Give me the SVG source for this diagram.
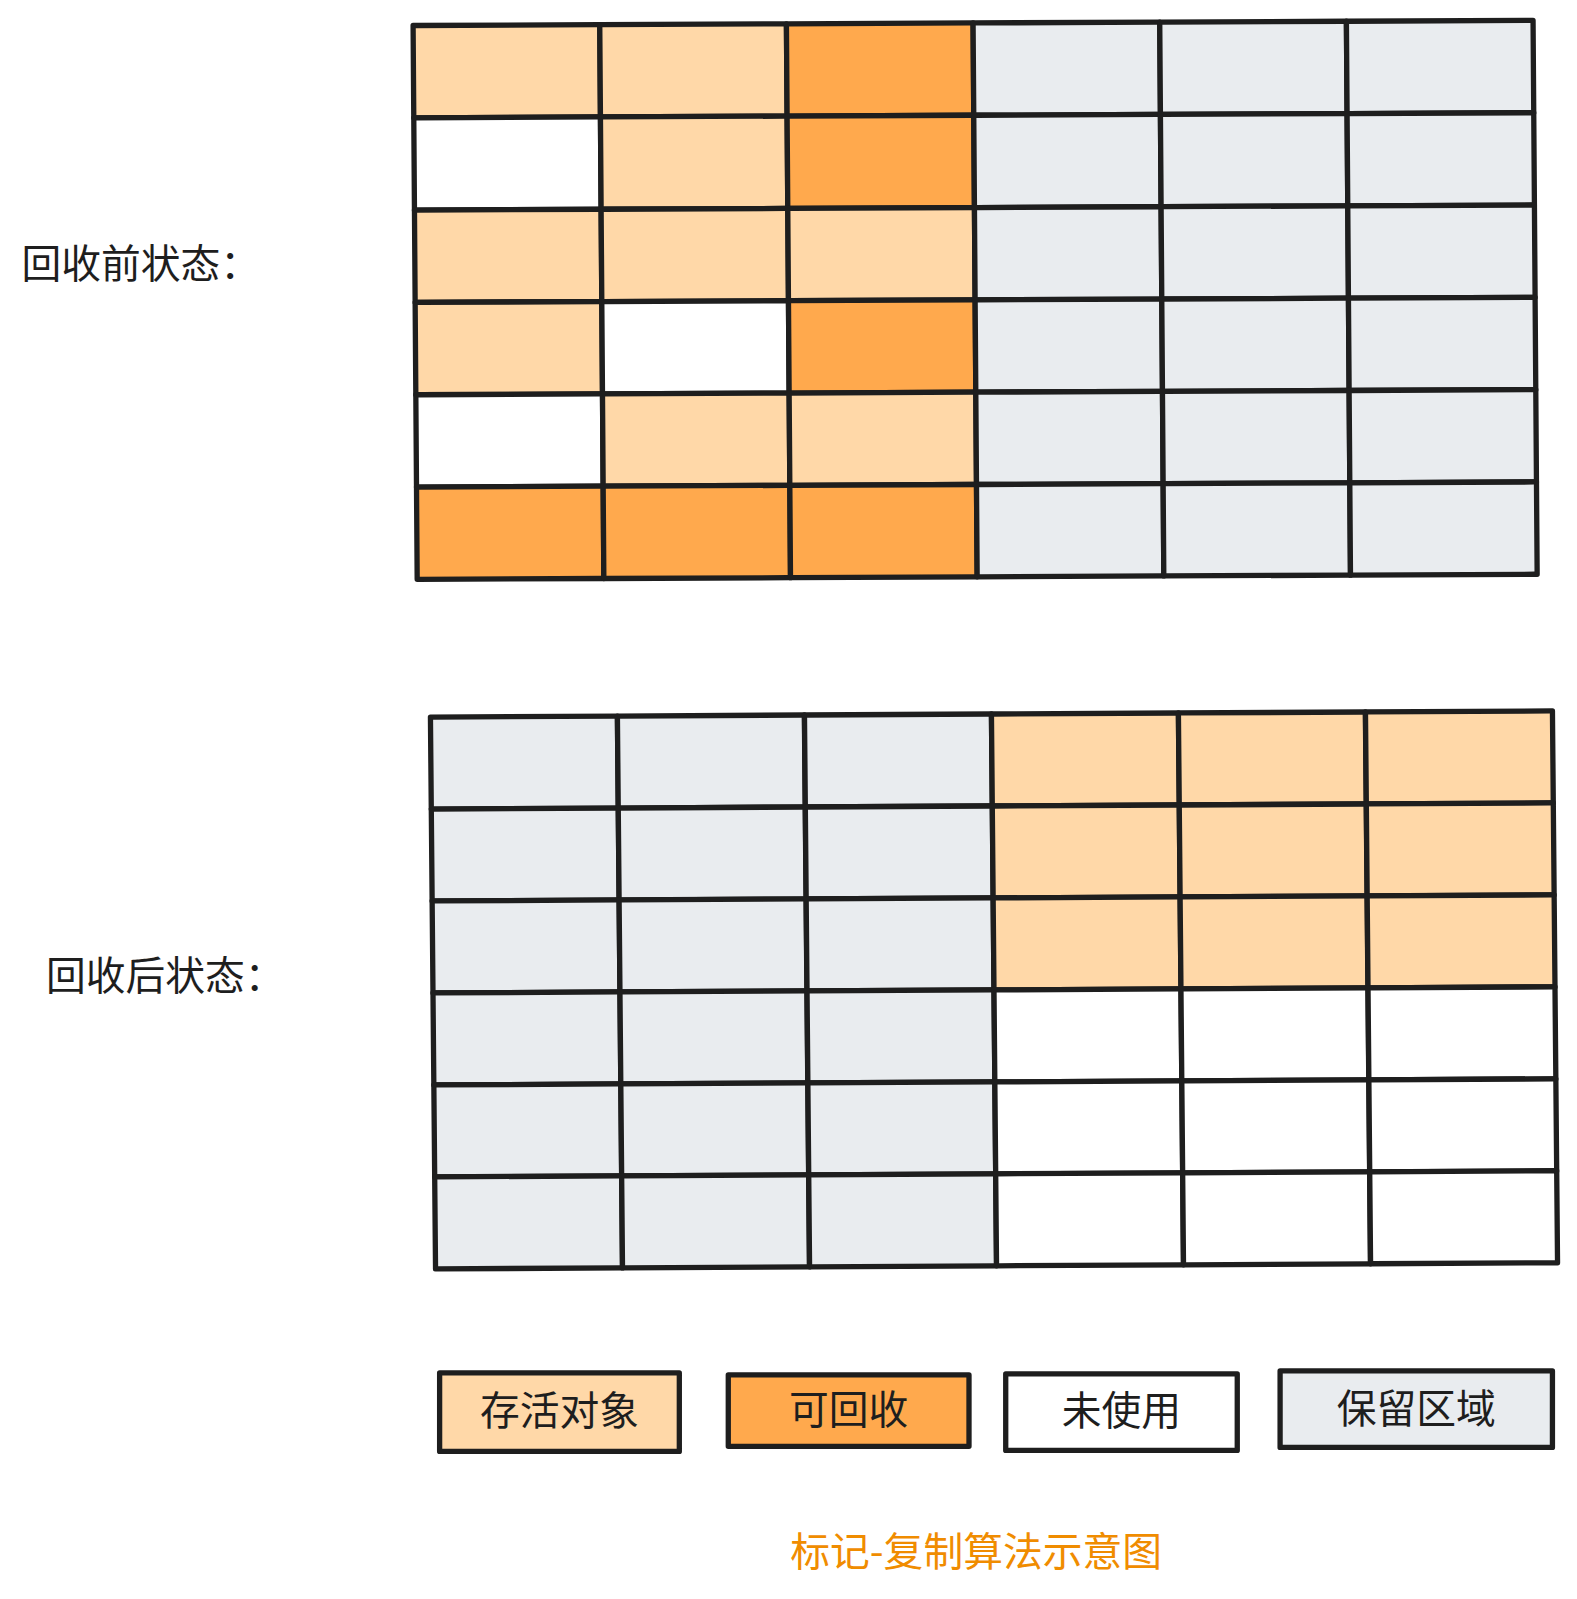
<svg xmlns="http://www.w3.org/2000/svg" width="1577" height="1599" viewBox="0 0 1577 1599">
<style>
.c{stroke:#1e1e1e;stroke-width:5.2;stroke-linejoin:round}
.l{fill:#ffd8a8}.o{fill:#ffa94d}.g{fill:#e9ecef}.w{fill:#ffffff}
.t{font-family:"Noto Sans CJK SC","Noto Sans",sans-serif;fill:#1e1e1e}
</style>
<rect width="1577" height="1599" fill="#ffffff"/>
<g id="diagram" transform="scale(1.02)">
<text id="label-before" class="t" x="21" y="273" font-size="39">回收前状态：</text>
<text id="label-after" class="t" x="45" y="971" font-size="39">回收后状态：</text>
<g id="grid-before" transform="matrix(1 -0.00455 0.00737 1 405 25)">
<rect class="c l" x="0" y="0" width="183" height="90.5"/>
<rect class="c l" x="183" y="0" width="183" height="90.5"/>
<rect class="c o" x="366" y="0" width="183" height="90.5"/>
<rect class="c g" x="549" y="0" width="183" height="90.5"/>
<rect class="c g" x="732" y="0" width="183" height="90.5"/>
<rect class="c g" x="915" y="0" width="183" height="90.5"/>
<rect class="c w" x="0" y="90.5" width="183" height="90.5"/>
<rect class="c l" x="183" y="90.5" width="183" height="90.5"/>
<rect class="c o" x="366" y="90.5" width="183" height="90.5"/>
<rect class="c g" x="549" y="90.5" width="183" height="90.5"/>
<rect class="c g" x="732" y="90.5" width="183" height="90.5"/>
<rect class="c g" x="915" y="90.5" width="183" height="90.5"/>
<rect class="c l" x="0" y="181" width="183" height="90.5"/>
<rect class="c l" x="183" y="181" width="183" height="90.5"/>
<rect class="c l" x="366" y="181" width="183" height="90.5"/>
<rect class="c g" x="549" y="181" width="183" height="90.5"/>
<rect class="c g" x="732" y="181" width="183" height="90.5"/>
<rect class="c g" x="915" y="181" width="183" height="90.5"/>
<rect class="c l" x="0" y="271.5" width="183" height="90.5"/>
<rect class="c w" x="183" y="271.5" width="183" height="90.5"/>
<rect class="c o" x="366" y="271.5" width="183" height="90.5"/>
<rect class="c g" x="549" y="271.5" width="183" height="90.5"/>
<rect class="c g" x="732" y="271.5" width="183" height="90.5"/>
<rect class="c g" x="915" y="271.5" width="183" height="90.5"/>
<rect class="c w" x="0" y="362" width="183" height="90.5"/>
<rect class="c l" x="183" y="362" width="183" height="90.5"/>
<rect class="c l" x="366" y="362" width="183" height="90.5"/>
<rect class="c g" x="549" y="362" width="183" height="90.5"/>
<rect class="c g" x="732" y="362" width="183" height="90.5"/>
<rect class="c g" x="915" y="362" width="183" height="90.5"/>
<rect class="c o" x="0" y="452.5" width="183" height="90.5"/>
<rect class="c o" x="183" y="452.5" width="183" height="90.5"/>
<rect class="c o" x="366" y="452.5" width="183" height="90.5"/>
<rect class="c g" x="549" y="452.5" width="183" height="90.5"/>
<rect class="c g" x="732" y="452.5" width="183" height="90.5"/>
<rect class="c g" x="915" y="452.5" width="183" height="90.5"/>
</g>
<g id="grid-after" transform="matrix(1 -0.00545 0.00924 1 422 703)">
<rect class="c g" x="0" y="0" width="183.3" height="90.2"/>
<rect class="c g" x="183.3" y="0" width="183.3" height="90.2"/>
<rect class="c g" x="366.7" y="0" width="183.3" height="90.2"/>
<rect class="c l" x="550" y="0" width="183.3" height="90.2"/>
<rect class="c l" x="733.3" y="0" width="183.3" height="90.2"/>
<rect class="c l" x="916.7" y="0" width="183.3" height="90.2"/>
<rect class="c g" x="0" y="90.2" width="183.3" height="90.2"/>
<rect class="c g" x="183.3" y="90.2" width="183.3" height="90.2"/>
<rect class="c g" x="366.7" y="90.2" width="183.3" height="90.2"/>
<rect class="c l" x="550" y="90.2" width="183.3" height="90.2"/>
<rect class="c l" x="733.3" y="90.2" width="183.3" height="90.2"/>
<rect class="c l" x="916.7" y="90.2" width="183.3" height="90.2"/>
<rect class="c g" x="0" y="180.3" width="183.3" height="90.2"/>
<rect class="c g" x="183.3" y="180.3" width="183.3" height="90.2"/>
<rect class="c g" x="366.7" y="180.3" width="183.3" height="90.2"/>
<rect class="c l" x="550" y="180.3" width="183.3" height="90.2"/>
<rect class="c l" x="733.3" y="180.3" width="183.3" height="90.2"/>
<rect class="c l" x="916.7" y="180.3" width="183.3" height="90.2"/>
<rect class="c g" x="0" y="270.5" width="183.3" height="90.2"/>
<rect class="c g" x="183.3" y="270.5" width="183.3" height="90.2"/>
<rect class="c g" x="366.7" y="270.5" width="183.3" height="90.2"/>
<rect class="c w" x="550" y="270.5" width="183.3" height="90.2"/>
<rect class="c w" x="733.3" y="270.5" width="183.3" height="90.2"/>
<rect class="c w" x="916.7" y="270.5" width="183.3" height="90.2"/>
<rect class="c g" x="0" y="360.7" width="183.3" height="90.2"/>
<rect class="c g" x="183.3" y="360.7" width="183.3" height="90.2"/>
<rect class="c g" x="366.7" y="360.7" width="183.3" height="90.2"/>
<rect class="c w" x="550" y="360.7" width="183.3" height="90.2"/>
<rect class="c w" x="733.3" y="360.7" width="183.3" height="90.2"/>
<rect class="c w" x="916.7" y="360.7" width="183.3" height="90.2"/>
<rect class="c g" x="0" y="450.8" width="183.3" height="90.2"/>
<rect class="c g" x="183.3" y="450.8" width="183.3" height="90.2"/>
<rect class="c g" x="366.7" y="450.8" width="183.3" height="90.2"/>
<rect class="c w" x="550" y="450.8" width="183.3" height="90.2"/>
<rect class="c w" x="733.3" y="450.8" width="183.3" height="90.2"/>
<rect class="c w" x="916.7" y="450.8" width="183.3" height="90.2"/>
</g>
<g id="legend-live">
<rect class="c l" x="431" y="1346" width="235" height="77"/>
<text class="t" x="548.5" y="1397" font-size="39" text-anchor="middle">存活对象</text>
</g>
<g id="legend-reclaimable">
<rect class="c o" x="714" y="1348" width="236" height="70"/>
<text class="t" x="832" y="1396" font-size="39" text-anchor="middle">可回收</text>
</g>
<g id="legend-unused">
<rect class="c w" x="986" y="1347" width="227" height="75"/>
<text class="t" x="1099.5" y="1397" font-size="39" text-anchor="middle">未使用</text>
</g>
<g id="legend-reserved">
<rect class="c g" x="1255" y="1344" width="267" height="75"/>
<text class="t" x="1388.5" y="1395" font-size="39" text-anchor="middle">保留区域</text>
</g>
<g id="connectors"/>
<text id="title" x="957" y="1535" font-size="39" text-anchor="middle" style="font-family:'Noto Sans CJK SC','Noto Sans',sans-serif;fill:#f08c00">标记-复制算法示意图</text>
</g>
</svg>
